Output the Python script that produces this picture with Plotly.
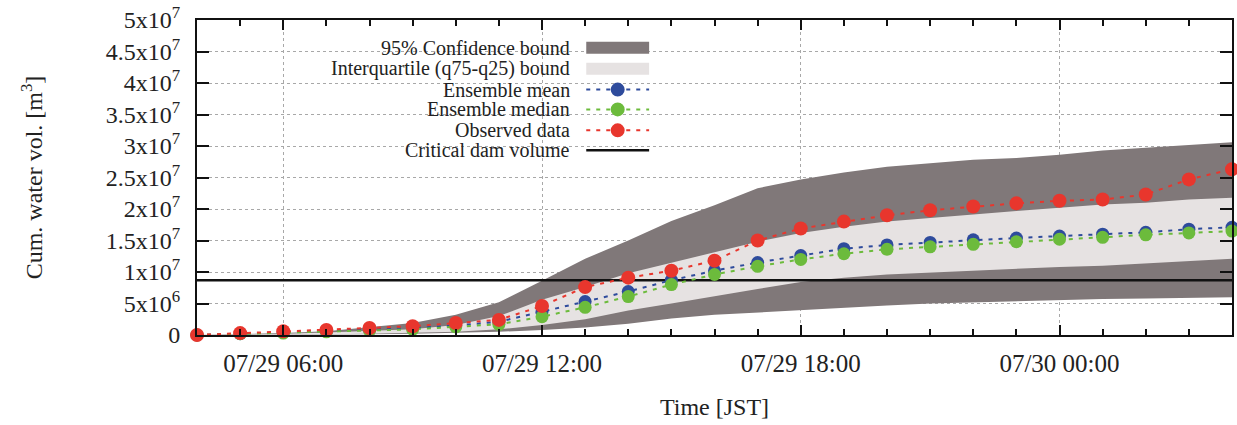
import plotly.graph_objects as go

# ---------------- data ----------------
times = [
    "2020-07-29 04:00", "2020-07-29 05:00", "2020-07-29 06:00", "2020-07-29 07:00",
    "2020-07-29 08:00", "2020-07-29 09:00", "2020-07-29 10:00", "2020-07-29 11:00",
    "2020-07-29 12:00", "2020-07-29 13:00", "2020-07-29 14:00", "2020-07-29 15:00",
    "2020-07-29 16:00", "2020-07-29 17:00", "2020-07-29 18:00", "2020-07-29 19:00",
    "2020-07-29 20:00", "2020-07-29 21:00", "2020-07-29 22:00", "2020-07-29 23:00",
    "2020-07-30 00:00", "2020-07-30 01:00", "2020-07-30 02:00", "2020-07-30 03:00",
    "2020-07-30 04:00",
]
observed = [0, 0.3, 0.6, 0.8, 1.1, 1.4, 1.9, 2.4, 4.6, 7.6, 9.1, 10.2, 11.8, 15.0,
            16.9, 18.0, 19.0, 19.8, 20.4, 20.9, 21.3, 21.5, 22.3, 24.7, 26.3]
ens_mean = [0, 0.2, 0.4, 0.6, 0.8, 1.1, 1.5, 2.1, 3.7, 5.3, 6.9, 8.7, 10.2, 11.5,
            12.6, 13.7, 14.3, 14.7, 15.1, 15.4, 15.7, 16.0, 16.3, 16.8, 17.1]
ens_median = [0, 0.2, 0.3, 0.5, 0.7, 0.9, 1.3, 1.7, 2.9, 4.4, 6.1, 8.0, 9.6, 10.9,
              12.0, 12.9, 13.6, 14.0, 14.4, 14.8, 15.2, 15.5, 15.9, 16.2, 16.5]
upper95 = [0, 0.1, 0.3, 0.6, 1.3, 1.9, 3.2, 5.2, 8.6, 12.1, 15.0, 18.1, 20.6, 23.3,
           24.7, 25.8, 26.7, 27.2, 27.8, 28.1, 28.6, 29.3, 29.7, 30.1, 30.6]
lower95 = [0, 0, 0, 0.05, 0.1, 0.2, 0.3, 0.5, 0.8, 1.2, 1.8, 2.6, 3.2, 3.6,
           3.9, 4.4, 4.7, 5.0, 5.2, 5.4, 5.6, 5.7, 5.8, 5.9, 6.0]
upper_iqr = [0, 0.05, 0.2, 0.4, 0.6, 0.9, 1.6, 3.0, 5.6, 7.6, 9.8, 11.5, 13.1, 14.8,
             16.2, 17.2, 18.0, 18.6, 19.2, 19.7, 20.2, 20.7, 21.0, 21.5, 21.8]
lower_iqr = [0, 0, 0.05, 0.1, 0.2, 0.3, 0.5, 0.9, 1.6, 2.5, 3.9, 5.0, 6.2, 7.3,
             8.4, 9.1, 9.6, 9.9, 10.3, 10.6, 10.8, 11.0, 11.4, 11.8, 12.1]
critical_volume = 8.7  # x 1e6 m^3
scale = 1e6

ytick_vals = [0, 5e6, 1e7, 1.5e7, 2e7, 2.5e7, 3e7, 3.5e7, 4e7, 4.5e7, 5e7]
ytick_text = ["0", "5x10<sup>6</sup>", "1x10<sup>7</sup>", "1.5x10<sup>7</sup>",
              "2x10<sup>7</sup>", "2.5x10<sup>7</sup>", "3x10<sup>7</sup>",
              "3.5x10<sup>7</sup>", "4x10<sup>7</sup>", "4.5x10<sup>7</sup>",
              "5x10<sup>7</sup>"]
legend_labels = ["95% Confidence bound", "Interquartile (q75-q25) bound",
                 "Ensemble mean", "Ensemble median", "Observed data",
                 "Critical dam volume"]

# ---------------- styles ----------------
FONT = "Liberation Serif, Times New Roman, serif"
C_DARK = "#807879"
C_LIGHT = "#e6e2e2"
C_BLUE = "#2e4b9c"
C_GREEN = "#6cbb3c"
C_RED = "#e8362d"
DASH = "4px,6px"

W, H = 1237, 425
ML, MR, MT, MB = 197, 3, 18, 90
PW, PH = W - ML - MR, H - MT - MB


def px2x(px):
    return (px - ML) / PW


def px2y(py):
    return (H - MB - py) / PH


def sc(v):
    return [a * scale for a in v]


fig = go.Figure()

fig.add_trace(go.Scatter(x=times, y=sc(lower95), mode="lines", line=dict(width=0),
                         showlegend=False, hoverinfo="skip"))
fig.add_trace(go.Scatter(x=times, y=sc(upper95), mode="lines", line=dict(width=0),
                         fill="tonexty", fillcolor=C_DARK, showlegend=False))
fig.add_trace(go.Scatter(x=times, y=sc(lower_iqr), mode="lines", line=dict(width=0),
                         showlegend=False, hoverinfo="skip"))
fig.add_trace(go.Scatter(x=times, y=sc(upper_iqr), mode="lines", line=dict(width=0),
                         fill="tonexty", fillcolor=C_LIGHT, showlegend=False))
fig.add_trace(go.Scatter(x=[times[0], times[-1]],
                         y=[critical_volume * scale, critical_volume * scale],
                         mode="lines", line=dict(color="#111111", width=2.5),
                         showlegend=False))
fig.add_trace(go.Scatter(x=times, y=sc(ens_mean), mode="lines+markers",
                         line=dict(color=C_BLUE, width=2, dash=DASH),
                         marker=dict(color=C_BLUE, size=13), cliponaxis=False,
                         showlegend=False))
fig.add_trace(go.Scatter(x=times, y=sc(ens_median), mode="lines+markers",
                         line=dict(color=C_GREEN, width=2, dash=DASH),
                         marker=dict(color=C_GREEN, size=13), cliponaxis=False,
                         showlegend=False))
fig.add_trace(go.Scatter(x=times, y=sc(observed), mode="lines+markers",
                         line=dict(color=C_RED, width=2, dash=DASH),
                         marker=dict(color=C_RED, size=14), cliponaxis=False,
                         showlegend=False))

# ---------------- custom legend (text right-aligned, sample on its right) ----------------
rows_py = [46, 67, 88, 108, 129, 149]
text_right = 573
s0, s1 = 587, 650
smid = (s0 + s1) / 2
annotations = []
shapes = []
for i, (lab, py) in enumerate(zip(legend_labels, rows_py)):
    annotations.append(dict(x=px2x(text_right), y=px2y(py), xref="paper", yref="paper",
                            text=lab, showarrow=False, xanchor="right", yanchor="middle",
                            font=dict(family=FONT, size=20, color="#222222")))
    if i == 0 or i == 1:
        shapes.append(dict(type="rect", xref="paper", yref="paper",
                           x0=px2x(s0), x1=px2x(s1), y0=px2y(py + 6), y1=px2y(py - 6),
                           fillcolor=C_DARK if i == 0 else C_LIGHT, line=dict(width=0)))
    elif i in (2, 3, 4):
        col = [C_BLUE, C_GREEN, C_RED][i - 2]
        shapes.append(dict(type="line", xref="paper", yref="paper",
                           x0=px2x(s0), x1=px2x(s1), y0=px2y(py), y1=px2y(py),
                           line=dict(color=col, width=2, dash=DASH)))
        shapes.append(dict(type="circle", xref="paper", yref="paper",
                           x0=px2x(smid - 7), x1=px2x(smid + 7),
                           y0=px2y(py + 7), y1=px2y(py - 7),
                           fillcolor=col, line=dict(width=0)))
    else:
        shapes.append(dict(type="line", xref="paper", yref="paper",
                           x0=px2x(s0), x1=px2x(s1), y0=px2y(py), y1=px2y(py),
                           line=dict(color="#111111", width=2.5)))

fig.update_layout(
    width=W, height=H,
    margin=dict(l=ML, r=MR, t=MT, b=MB),
    plot_bgcolor="white", paper_bgcolor="white",
    font=dict(family=FONT, color="#222222"),
    annotations=annotations, shapes=shapes,
    showlegend=False,
)
fig.update_xaxes(
    type="date",
    range=[times[0], times[-1]],
    tick0="2020-07-29 00:00", dtick=6 * 3600 * 1000,
    tickformat="%m/%d %H:%M",
    ticks="inside", ticklen=10, tickwidth=1.5, tickcolor="#111111",
    minor=dict(dtick=3600 * 1000, ticks="inside", ticklen=6, tickcolor="#111111",
               showgrid=False),
    showline=True, linecolor="#111111", linewidth=2, mirror="ticks",
    showgrid=True, gridcolor="#a8a8a8", gridwidth=1, griddash="3px,3px",
    tickfont=dict(family=FONT, size=25, color="#222222"),
    ticklabelstandoff=5,
    title=dict(text="Time [JST]", font=dict(family=FONT, size=24, color="#222222"),
               standoff=22),
    zeroline=False,
)
fig.update_yaxes(
    range=[0, 5e7],
    tickvals=ytick_vals, ticktext=ytick_text,
    ticks="inside", ticklen=12, tickwidth=1.5, tickcolor="#111111",
    showline=True, linecolor="#111111", linewidth=2, mirror="ticks",
    showgrid=True, gridcolor="#a8a8a8", gridwidth=1, griddash="3px,3px",
    tickfont=dict(family=FONT, size=24, color="#222222"),
    ticklabelstandoff=10,
    title=dict(text="Cum. water vol. [m<sup>3</sup>]",
               font=dict(family=FONT, size=24, color="#222222"), standoff=56),
    zeroline=False,
)

fig.write_html("out.html")
